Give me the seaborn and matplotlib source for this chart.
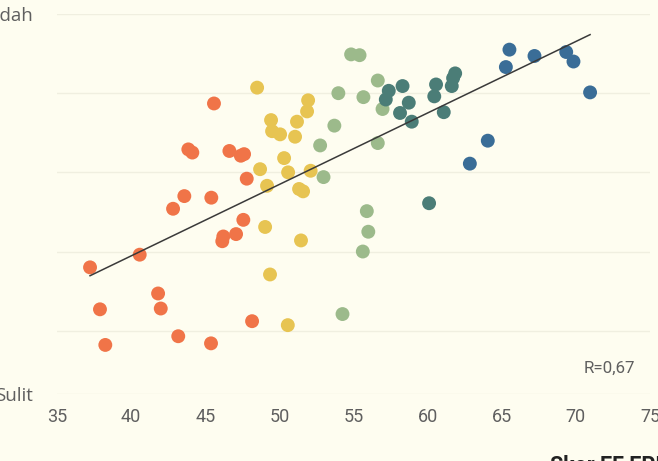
import numpy as np
import pandas as pd
import seaborn as sns
import matplotlib.pyplot as plt

# EF EPI score (x) vs perceived ease (y, 0.2 = Sulit ... 5 = Mudah)
skor_ef_epi = [
    # sangat rendah
    45.59, 43.86, 44.13, 46.63, 47.40, 47.62, 47.80, 43.59, 45.41, 42.83, 47.57, 47.08,
    46.22, 46.15, 40.58, 37.23, 41.82, 37.90, 42.00, 48.16, 43.18, 38.26, 45.39,
    # rendah
    48.50, 51.94, 51.87, 49.44, 51.19, 49.51, 50.05, 51.06, 50.32, 48.70, 50.59, 52.11,
    49.17, 51.33, 51.60, 49.04, 51.46, 49.37, 50.57,
    # sedang
    54.84, 55.41, 56.64, 53.98, 55.67, 56.96, 53.71, 52.75, 56.64, 52.98, 55.90, 56.00,
    55.63, 54.26,
    # tinggi
    57.38, 58.31, 57.18, 58.73, 58.14, 58.93, 60.57, 60.45, 61.86, 61.72, 61.63, 61.09,
    60.10,
    # sangat tinggi
    65.52, 65.28, 67.21, 69.35, 69.84, 70.96, 64.06, 62.85,
]
kemudahan = [
    3.87, 3.29, 3.25, 3.27, 3.21, 3.23, 2.92, 2.70, 2.68, 2.54, 2.40, 2.22,
    2.19, 2.13, 1.96, 1.80, 1.47, 1.27, 1.28, 1.12, 0.93, 0.82, 0.84,
    4.07, 3.91, 3.77, 3.66, 3.64, 3.52, 3.48, 3.45, 3.18, 3.04, 3.00, 3.02,
    2.83, 2.79, 2.76, 2.31, 2.14, 1.71, 1.07,
    4.49, 4.48, 4.16, 4.00, 3.95, 3.80, 3.59, 3.34, 3.37, 2.94, 2.51, 2.25,
    2.00, 1.21,
    4.03, 4.09, 3.92, 3.88, 3.75, 3.64, 4.11, 3.96, 4.25, 4.19, 4.09, 3.76,
    2.61,
    4.55, 4.33, 4.47, 4.52, 4.40, 4.01, 3.40, 3.11,
]

level_names = ["Sangat rendah", "Rendah", "Sedang", "Tinggi", "Sangat tinggi"]
level_bins = [0, 48.4, 52.4, 57.1, 62.5, 100]
level_colors = ["#F07448", "#E7C452", "#9CBA8B", "#4B7D77", "#3A6D97"]

x_ticks = [35, 40, 45, 50, 55, 60, 65, 70, 75]
y_ticks = [0.2, 1, 2, 3, 4, 5]
y_labels = ["Sulit", "", "", "", "", "Mudah"]
r_label = "R=0,67"

df = pd.DataFrame({"skor": skor_ef_epi, "mudah": kemudahan})
df["level"] = pd.cut(df["skor"], bins=level_bins, labels=level_names)

bg = "#FEFDF0"
fig = plt.figure(figsize=(6.58, 4.61), dpi=100, facecolor=bg)
ax = fig.add_axes([0.0866, 0.1453, 0.9012, 0.8243])
ax.set_facecolor(bg)

sns.scatterplot(
    data=df, x="skor", y="mudah", hue="level",
    palette=dict(zip(level_names, level_colors)),
    s=100, linewidth=0, alpha=1, legend=False, ax=ax, zorder=3,
)
sns.regplot(
    data=df, x="skor", y="mudah", scatter=False, ci=None, truncate=True,
    line_kws={"color": "#3a3a3a", "lw": 1.1, "zorder": 4}, ax=ax,
)

ax.set_xlim(35, 75)
ax.set_ylim(0.2, 5)
ax.set_xticks(x_ticks)
ax.set_yticks(y_ticks)
ax.set_yticklabels(y_labels)
ax.grid(axis="y", color="#F0EFE0", lw=1)
ax.grid(axis="x", visible=False)
ax.set_axisbelow(True)
for s in ax.spines.values():
    s.set_visible(False)
ax.set_xlabel("")
ax.set_ylabel("")
ax.tick_params(axis="x", length=0, pad=10, labelsize=13, labelcolor="#5f5f5f")
ax.tick_params(axis="y", length=0, pad=17, labelsize=13.5, labelcolor="#5f5f5f")
for lab in ax.get_xticklabels():
    lab.set_fontfamily("Roboto")
for lab in ax.get_yticklabels():
    lab.set_fontfamily("Open Sans")

ax.text(74.0, 0.53, r_label, ha="right", va="center", fontsize=12.2,
        color="#5f5f5f", family="Roboto")

fig.text(550 / 658, 6 / 461, "Skor EF EPI", ha="left", va="top",
         fontsize=15.5, fontweight="bold", color="#222222", family="Roboto")

fig.savefig("out.png", dpi=100, facecolor=bg)
